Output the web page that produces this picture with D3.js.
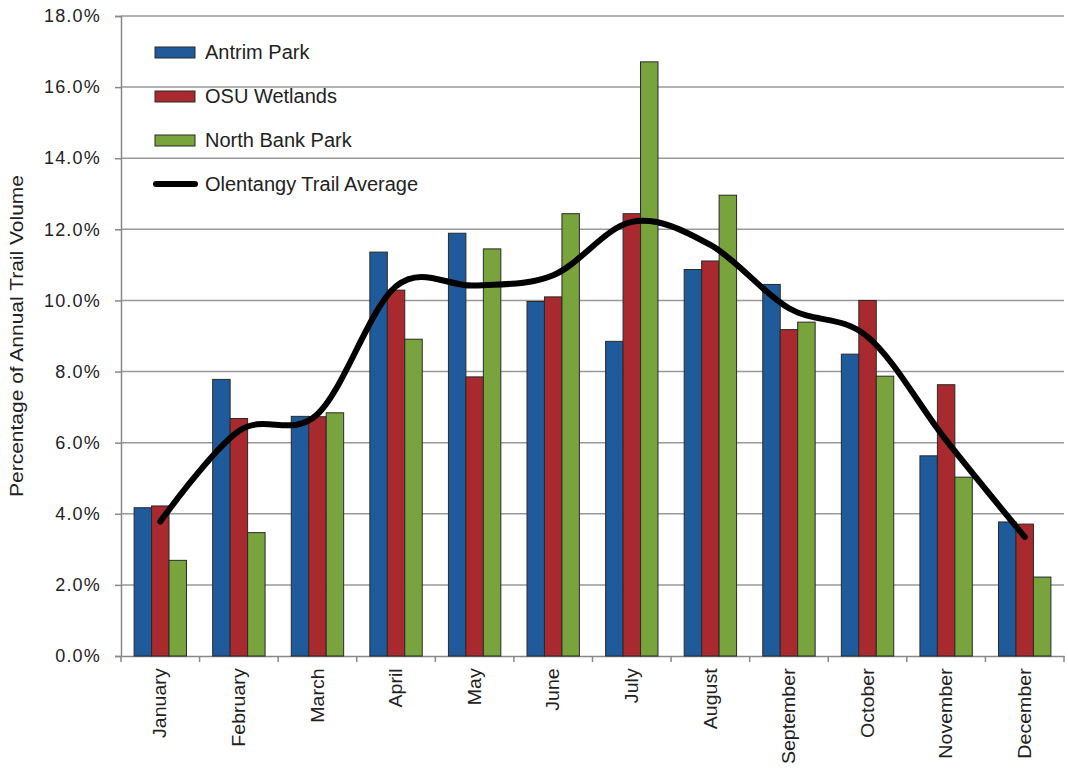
<!DOCTYPE html>
<html>
<head>
<meta charset="utf-8">
<script src="https://cdn.jsdelivr.net/npm/d3@7"></script>
<style>
  body { margin: 0; background: #fff; }
  svg text { font-family: "Liberation Sans", Arial, sans-serif; fill: #222; }
</style>
</head>
<body>
<div class="vis"></div>
<script>
const months = ["January", "February", "March", "April", "May", "June", "July",
  "August", "September", "October", "November", "December"];
const antrim = [4.17, 7.78, 6.74, 11.36, 11.89, 9.97, 8.85, 10.87, 10.45, 8.49, 5.63, 3.77];
const osu = [4.22, 6.68, 6.73, 10.29, 7.85, 10.1, 12.44, 11.11, 9.18, 10.0, 7.63, 3.71];
const northBank = [2.69, 3.47, 6.84, 8.91, 11.45, 12.44, 16.71, 12.96, 9.39, 7.87, 5.03, 2.22];
const trailAvg = [3.78, 6.33, 6.8, 10.4, 10.42, 10.71, 12.21, 11.56, 9.78, 8.98, 6.07, 3.35];
const yTicks = [0, 2, 4, 6, 8, 10, 12, 14, 16, 18];

const seriesNames = ["Antrim Park", "OSU Wetlands", "North Bank Park"];
const seriesColors = ["#1f5b9a", "#a8292e", "#78a33d"];
const seriesVals = [antrim, osu, northBank];

const width = 1068, height = 768;
const margin = { top: 16, right: 4, bottom: 112, left: 121 };

const svg = d3.select(".vis").append("svg")
  .attr("width", width).attr("height", height);

const x = d3.scaleBand()
  .domain(months)
  .range([margin.left, width - margin.right])
  .paddingInner(0).paddingOuter(0);

const sub = d3.scaleBand()
  .domain(d3.range(3))
  .range([0, x.bandwidth()])
  .paddingInner(0)
  .paddingOuter(0.75);

const y = d3.scaleLinear()
  .domain([0, 18])
  .range([height - margin.bottom, margin.top]);

// gridlines
svg.append("g")
  .selectAll("line")
  .data(yTicks.filter(d => d > 0))
  .join("line")
  .attr("x1", margin.left).attr("x2", width - margin.right)
  .attr("y1", d => y(d)).attr("y2", d => y(d))
  .attr("stroke", "#999").attr("stroke-width", 1.5);

// y axis
const yAxis = svg.append("g")
  .attr("transform", `translate(${margin.left},0)`)
  .call(d3.axisLeft(y).tickValues(yTicks).tickSize(6).tickPadding(14)
    .tickFormat(d => d.toFixed(1) + "%"));
yAxis.selectAll("line, path").attr("stroke", "#888").attr("stroke-width", 1.5);
yAxis.selectAll("text").attr("font-size", 18)
  .attr("letter-spacing", 1.2)
  .style("font-family", "Liberation Sans, Arial, sans-serif").attr("fill", "#222");

// x axis
const xAxis = svg.append("g")
  .attr("transform", `translate(0,${y(0)})`)
  .call(d3.axisBottom(x).tickSize(0).tickPadding(0));
xAxis.select(".domain").attr("stroke", "#888").attr("stroke-width", 1.5);
xAxis.selectAll(".tick text")
  .attr("transform", "rotate(-90) scale(1.12,1)")
  .attr("text-anchor", "end")
  .attr("x", -11).attr("y", 0).attr("dy", "0.35em")
  .attr("font-size", 17.5)
  .style("font-family", "Liberation Sans, Arial, sans-serif")
  .attr("fill", "#222");
svg.append("g")
  .selectAll("line")
  .data(d3.range(months.length + 1))
  .join("line")
  .attr("x1", i => margin.left + i * x.step())
  .attr("x2", i => margin.left + i * x.step())
  .attr("y1", y(0)).attr("y2", y(0) + 6)
  .attr("stroke", "#888").attr("stroke-width", 1.5);

// bars
seriesVals.forEach((vals, s) => {
  svg.append("g")
    .selectAll("rect")
    .data(vals)
    .join("rect")
    .attr("x", (d, i) => x(months[i]) + sub(s))
    .attr("y", d => y(d))
    .attr("width", sub.bandwidth())
    .attr("height", d => y(0) - y(d))
    .attr("fill", seriesColors[s])
    .attr("stroke", "#2a2a2a").attr("stroke-width", 1);
});

// average line
const line = d3.line()
  .x((d, i) => x(months[i]) + x.bandwidth() / 2)
  .y(d => y(d))
  .curve(d3.curveCardinal.tension(0));
svg.append("path")
  .datum(trailAvg)
  .attr("d", line)
  .attr("fill", "none")
  .attr("stroke", "#000")
  .attr("stroke-width", 6)
  .attr("stroke-linecap", "round");

// y title
svg.append("text")
  .attr("transform", `translate(23,${(y(0) + y(18)) / 2}) rotate(-90) scale(1.2,1)`)
  .attr("text-anchor", "middle")
  .attr("font-size", 17.5)
  .text("Percentage of Annual Trail Volume");

// legend
const legend = svg.append("g").attr("transform", "translate(155,52)");
const legendItems = seriesNames.concat(["Olentangy Trail Average"]);
legendItems.forEach((name, i) => {
  const g = legend.append("g").attr("transform", `translate(0,${i * 44})`);
  if (i < 3) {
    g.append("rect")
      .attr("x", 0).attr("y", -5).attr("width", 40).attr("height", 11)
      .attr("fill", seriesColors[i]).attr("stroke", "#2a2a2a").attr("stroke-width", 1);
  } else {
    g.append("line")
      .attr("x1", 1).attr("x2", 40).attr("y1", 0).attr("y2", 0)
      .attr("stroke", "#000").attr("stroke-width", 6).attr("stroke-linecap", "round");
  }
  g.append("text")
    .attr("x", 50).attr("y", 0).attr("dy", "0.35em")
    .attr("font-size", 20)
    .text(name);
});
</script>
</body>
</html>
